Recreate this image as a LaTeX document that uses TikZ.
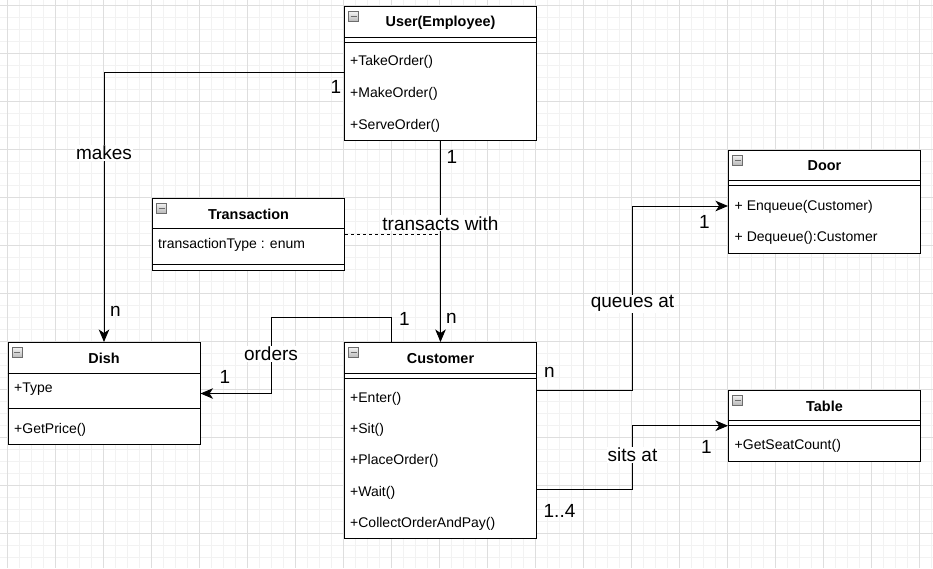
\documentclass[tikz,border=0pt]{standalone}
\usepackage{fontspec}
\setmainfont{Liberation Sans}
\usetikzlibrary{arrows.meta,calc}

\tikzset{
  classbox/.style={draw, line width=1pt, fill=white, anchor=north west, inner sep=0pt,
    minimum width=192pt},
  title/.style={inner sep=0pt, font=\bfseries\fontsize{14.4}{16}\selectfont},
  member/.style={anchor=west, inner sep=0pt, font=\fontsize{14}{16}\selectfont},
  icon/.style={draw=gray!85!black, top color=gray!10, bottom color=gray!55, inner sep=0pt,
    minimum size=10pt, line width=0.6pt,
    path picture={\draw[line width=1pt] ([xshift=-3pt]path picture bounding box.center)
      -- ([xshift=3pt]path picture bounding box.center);}},
  lbl/.style={fill=white, inner sep=1pt, font=\fontsize{19}{21}\selectfont},
  mult/.style={anchor=base, inner sep=0pt, font=\fontsize{19}{21}\selectfont},
  assoc/.style={line width=0.9pt, -{Stealth[length=12.5pt,width=10.5pt,inset=3.5pt]}},
  minor/.style={draw=black!5, line width=0.8pt},
  major/.style={draw=black!13, line width=0.9pt},
}

\begin{document}
\begin{tikzpicture}[x=1pt, y=-1pt]
\useasboundingbox[fill=white] (0,0) rectangle (933,568);

% background grid
\foreach \i in {0,...,77} \draw[minor] (7.5+12*\i,0) -- (7.5+12*\i,568);
\foreach \i in {0,...,46} \draw[minor] (0,5+12*\i) -- (933,5+12*\i);
\foreach \i in {0,...,19} \draw[major] (7.5+48*\i,0) -- (7.5+48*\i,568);
\foreach \i in {0,...,11} \draw[major] (0,5+48*\i) -- (933,5+48*\i);

% classes
\node[classbox, minimum height=134pt] (user) at (344,6) {};
\node[classbox, minimum height=72pt] (trans) at (152,197.5) {};
\node[classbox, minimum height=102pt] (dish) at (7.5,342) {};
\node[classbox, minimum height=196pt] (customer) at (344,342) {};
\node[classbox, minimum height=103pt] (door) at (728,149.5) {};
\node[classbox, minimum height=71.5pt] (table) at (728,389.5) {};

\node[title] (user-t) at ($(user.north)+(0,16.5)$) {User(Employee)};
\node[title] (trans-t) at ($(trans.north)+(0,16.5)$) {Transaction};
\node[title] (dish-t) at ($(dish.north)+(0,16.5)$) {Dish};
\node[title] (customer-t) at ($(customer.north)+(0,16.5)$) {Customer};
\node[title] (door-t) at ($(door.north)+(0,16.5)$) {Door};
\node[title] (table-t) at ($(table.north)+(0,16.5)$) {Table};

\foreach \c in {user,trans,dish,customer,door,table}
  \node[icon] (\c-i) at ($(\c.north west)+(9.5,10.5)$) {};

% compartments
\foreach \c in {user,customer,door,table} {
  \draw[line width=1pt] ($(\c.north west)+(0,31)$) -- ($(\c.north east)+(0,31)$);
  \draw[line width=1pt] ($(\c.north west)+(0,36)$) -- ($(\c.north east)+(0,36)$);
}
\foreach \c in {trans,dish} {
  \draw[line width=1pt] ($(\c.north west)+(0,31)$) -- ($(\c.north east)+(0,31)$);
  \draw[line width=1pt] ($(\c.north west)+(0,66.5)$) -- ($(\c.north east)+(0,66.5)$);
}

\foreach \t [count=\i] in {+TakeOrder(),+MakeOrder(),+ServeOrder()}
  \node[member] (user-m\i) at ($(user.north west)+(6,24+32*\i)$) {\t};
\node[member] (trans-a1) at ($(trans.north west)+(6,47.5)$) {transactionType : enum};
\node[member] (dish-a1) at ($(dish.north west)+(6.5,47.5)$) {+Type};
\node[member] (dish-m1) at ($(dish.north west)+(6.5,88)$) {+GetPrice()};
\foreach \t [count=\i] in {+Enter(),+Sit(),+PlaceOrder(),+Wait(),+CollectOrderAndPay()}
  \node[member] (customer-m\i) at ($(customer.north west)+(6,26+31.1*\i)$) {\t};
\foreach \t [count=\i] in {+ Enqueue(Customer),+ Dequeue():Customer}
  \node[member] (door-m\i) at ($(door.north west)+(6.5,25.5+31.5*\i)$) {\t};
\node[member] (table-m1) at ($(table.north west)+(6.5,56.5)$) {+GetSeatCount()};

% associations
\coordinate (um) at ($(user.north west)+(0,66)$);
\coordinate (co) at ($(customer.north west)+(47.5,0)$);
\coordinate (ob) at (271,317);
\coordinate (cq) at ($(customer.north east)+(0,48.5)$);
\coordinate (dq) at ($(door.north west)+(0,56.5)$);
\coordinate (cs) at ($(customer.north east)+(0,147)$);

\draw[line width=0.9pt, dash pattern=on 3pt off 3pt] (trans.east) -- (trans.east -| user.south);
\draw[assoc] (user.south) -- node[pos=.41, lbl] {transacts with} (customer.north);
\draw[assoc] (um) -| node[pos=.65, lbl] {makes} (dish.north);
\draw[assoc] (co) |- (ob) |- node[pos=.24, lbl] {orders} (dish.east);
\draw[assoc] (cq) -- ($(cq)!.5!(cq -| dq)$) |- node[pos=.235, lbl] {queues at} (dq);
\draw[assoc] (cs) -- ($(cs)!.5!(cs -| table.west)$) |- node[pos=.27, lbl] {sits at} (table.west);

% multiplicities
\node[mult] (m-um) at (336,93) {1};
\node[mult] (m-dm) at (115.5,316) {n};
\node[mult] (m-ut) at (452,163) {1};
\node[mult] (m-ct) at (451.5,323) {n};
\node[mult] (m-co) at (404.5,325) {1};
\node[mult] (m-do) at (225,383.5) {1};
\node[mult] (m-cq) at (549.5,377) {n};
\node[mult] (m-dq) at (704.5,228.5) {1};
\node[mult] (m-cs) at (559.5,517) {1..4};
\node[mult] (m-ts) at (706.5,453.5) {1};
\end{tikzpicture}
\end{document}
